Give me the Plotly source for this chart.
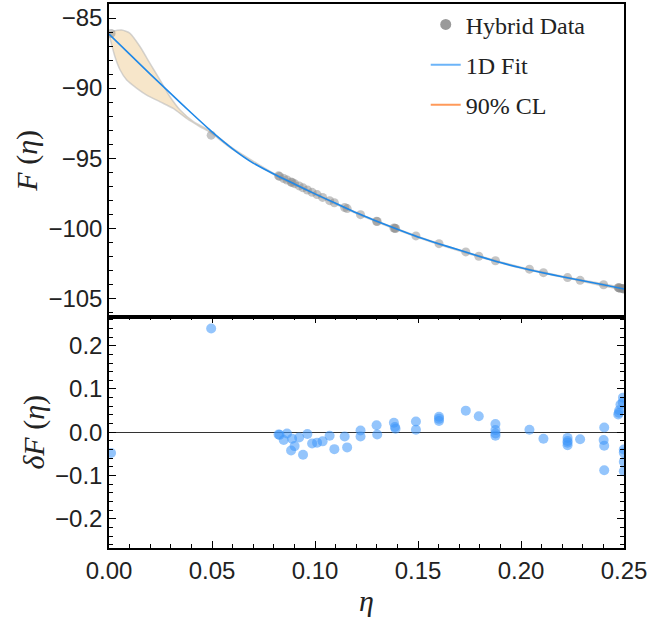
import plotly.graph_objects as go

# ---------------- data ----------------
# Hybrid data, top panel
data_eta = [0.001, 0.0496, 0.0823, 0.0828, 0.0848, 0.0864, 0.0884, 0.0889, 0.0901, 0.0923,
            0.0942, 0.0963, 0.0986, 0.1010, 0.1037, 0.1071, 0.1094, 0.1144, 0.1156, 0.1221,
            0.1299, 0.1302, 0.1383, 0.1388, 0.1391, 0.1490, 0.1602, 0.1732, 0.1795, 0.1876,
            0.2041, 0.2109, 0.2226, 0.2287, 0.2401, 0.2472, 0.2475, 0.2477, 0.2483, 0.2494,
            0.2495, 0.2499]
data_F = [-86.10, -93.36, -96.26, -96.30, -96.45, -96.56, -96.70, -96.74, -96.82, -96.98,
          -97.12, -97.27, -97.44, -97.60, -97.80, -98.03, -98.18, -98.52, -98.60, -99.03,
          -99.50, -99.52, -99.98, -100.00, -100.02, -100.55, -101.10, -101.69, -102.00, -102.32,
          -102.92, -103.17, -103.52, -103.72, -104.03, -104.24, -104.25, -104.26, -104.28, -104.31,
          -104.31, -104.33]

# 1D fit curve
fit_eta = [0.0, 0.01, 0.02, 0.03, 0.04, 0.05, 0.06, 0.07, 0.08, 0.09, 0.10, 0.11, 0.12,
           0.13, 0.14, 0.15, 0.16, 0.17, 0.18, 0.19, 0.20, 0.21, 0.22, 0.23, 0.24, 0.25]
fit_F = [-86.15, -87.58, -89.00, -90.40, -91.78, -93.12, -94.33, -95.35, -96.13, -96.84,
         -97.55, -98.22, -98.90, -99.50, -100.08, -100.62, -101.10, -101.56, -102.02, -102.45,
         -102.82, -103.16, -103.46, -103.75, -104.03, -104.34]

# 90% CL band edges
up_eta = [0.0, 0.0021, 0.0062, 0.0102, 0.0151, 0.0199, 0.0248, 0.0296, 0.0345, 0.041,
          0.049, 0.06, 0.08, 0.10, 0.125, 0.15, 0.175, 0.2, 0.225, 0.25]
up_F = [-86.10, -85.95, -85.86, -86.09, -87.05, -88.24, -89.43, -90.62, -91.57, -92.40,
        -93.05, -94.28, -96.09, -97.51, -99.18, -100.58, -101.76, -102.78, -103.57, -104.30]
lo_eta = [0.0, 0.0029, 0.0054, 0.0086, 0.0135, 0.0183, 0.0248, 0.0312, 0.0377, 0.0442,
          0.049, 0.06, 0.08, 0.10, 0.125, 0.15, 0.175, 0.2, 0.225, 0.25]
lo_F = [-86.15, -87.76, -88.71, -89.43, -90.02, -90.50, -90.98, -91.45, -92.17, -92.76,
        -93.15, -94.38, -96.17, -97.59, -99.26, -100.66, -101.84, -102.86, -103.65, -104.38]

# residuals, bottom panel
res_eta = [0.001, 0.0496, 0.0823, 0.0828, 0.0848, 0.0864, 0.0884, 0.0889, 0.0901, 0.0923,
           0.0942, 0.0963, 0.0986, 0.1010, 0.1037, 0.1071, 0.1094, 0.1144, 0.1156, 0.1221,
           0.1221, 0.1299, 0.1302, 0.1383, 0.1388, 0.1391, 0.1490, 0.1490, 0.1602, 0.1602,
           0.1602, 0.1732, 0.1795, 0.1876, 0.1876, 0.1876, 0.1876, 0.2041, 0.2109, 0.2226,
           0.2226, 0.2226, 0.2226, 0.2287, 0.2404, 0.2401, 0.2404, 0.2404, 0.2472, 0.2475,
           0.2477, 0.2483, 0.2494, 0.2495, 0.2499, 0.2499, 0.2499, 0.2499]
res_dF = [-0.048, 0.240, -0.005, -0.006, -0.018, -0.003, -0.042, -0.015, -0.032, -0.012,
          -0.052, -0.004, -0.026, -0.024, -0.021, -0.008, -0.039, -0.010, -0.035, 0.004,
          -0.010, 0.016, -0.005, 0.022, 0.012, 0.008, 0.025, 0.006, 0.036, 0.031,
          0.026, 0.050, 0.037, 0.019, 0.005, -0.003, -0.008, 0.006, -0.015, -0.013,
          -0.020, -0.024, -0.030, -0.016, 0.011, -0.018, -0.031, -0.088, 0.041, 0.045,
          0.051, 0.064, 0.069, 0.080, -0.040, -0.047, -0.068, -0.090]

# ---------------- figure ----------------
SANS = "Liberation Sans"
SERIF = "Liberation Serif"

fig = go.Figure()

band_x = up_eta + lo_eta[::-1]
band_y = up_F + lo_F[::-1]
fig.add_trace(go.Scatter(x=band_x, y=band_y, mode="lines", fill="toself",
                         fillcolor="rgba(240,205,150,0.5)",
                         line=dict(color="rgba(185,185,185,0.6)", width=1.5, shape="spline", smoothing=0.6),
                         showlegend=False, hoverinfo="skip", xaxis="x", yaxis="y"))
fig.add_trace(go.Scatter(x=data_eta, y=data_F, mode="markers",
                         marker=dict(color="rgba(140,140,140,0.5)", size=9),
                         showlegend=False, xaxis="x", yaxis="y"))
fig.add_trace(go.Scatter(x=fit_eta, y=fit_F, mode="lines",
                         line=dict(color="#1f88e8", width=1.6, shape="spline", smoothing=0.6),
                         showlegend=False, xaxis="x", yaxis="y"))

fig.add_trace(go.Scatter(x=res_eta, y=res_dF, mode="markers",
                         marker=dict(color="rgba(60,150,250,0.55)", size=10),
                         showlegend=False, xaxis="x2", yaxis="y2"))

# legend-only entries
fig.add_trace(go.Scatter(x=[None], y=[None], mode="markers", name="Hybrid Data",
                         marker=dict(color="#9a9a9a", size=11), legendgroup="a"))
fig.add_trace(go.Scatter(x=[None], y=[None], mode="lines", name="1D Fit",
                         line=dict(color="#6cb4f8", width=2), legendgroup="b"))
fig.add_trace(go.Scatter(x=[None], y=[None], mode="lines", name="90% CL",
                         line=dict(color="#ff9a5a", width=2), legendgroup="c"))

split = 0.4255
tickfont = dict(family=SANS, size=24, color="#222")
common_ax = dict(showline=True, linecolor="black", linewidth=1.5, showgrid=False, zeroline=False,
                 automargin=False)

fig.update_layout(
    width=648, height=635,
    margin=dict(l=109, r=24, t=4, b=87, autoexpand=False),
    plot_bgcolor="white", paper_bgcolor="white",
    showlegend=True,
    legend=dict(x=0.615, y=1.003, xanchor="left", yanchor="top",
                font=dict(family=SERIF, size=24, color="#222"),
                bgcolor="rgba(0,0,0,0)", tracegroupgap=6, itemwidth=30),
    xaxis=dict(domain=[0, 1], anchor="y", range=[0, 0.25], matches="x2",
               showticklabels=False, ticks="", mirror=True, **common_ax),
    yaxis=dict(domain=[split, 1], anchor="x", range=[-106.3, -84.0],
               dtick=5, tick0=-85, ticks="inside", ticklen=7, tickwidth=1.3, tickcolor="black",
               minor=dict(dtick=1, ticks="inside", ticklen=4, tickwidth=1, tickcolor="black"),
               mirror=True, tickfont=tickfont,
               title=dict(text="<i>F</i> (<i>η</i>)", font=dict(family=SERIF, size=30, color="#222"),
                          standoff=2),
               **common_ax),
    xaxis2=dict(domain=[0, 1], anchor="y2", range=[0, 0.25], dtick=0.05, tick0=0,
                tickformat=".2f", ticks="inside", ticklen=7, tickwidth=1.3, tickcolor="black",
                minor=dict(dtick=0.01, ticks="inside", ticklen=4, tickwidth=1, tickcolor="black"),
                mirror="allticks", tickfont=tickfont,
                title=dict(text="<i>η</i>", font=dict(family=SERIF, size=30, color="#222"),
                           standoff=7),
                **common_ax),
    yaxis2=dict(domain=[0, split], anchor="x2", range=[-0.2675, 0.2675], dtick=0.1, tick0=0,
                tickformat=".1f", ticks="inside", ticklen=7, tickwidth=1.3, tickcolor="black",
                minor=dict(dtick=0.02, ticks="inside", ticklen=4, tickwidth=1, tickcolor="black"),
                mirror="allticks", tickfont=tickfont,
                title=dict(text="<i>δF</i> (<i>η</i>)", font=dict(family=SERIF, size=30, color="#222"),
                           standoff=2),
                showline=True, linecolor="black", linewidth=1.5, showgrid=False,
                zeroline=True, zerolinecolor="#333", zerolinewidth=1.2, automargin=False),
)

fig.write_html("out.html", config={"displayModeBar": False},
               post_script="document.body.style.margin='0';")
